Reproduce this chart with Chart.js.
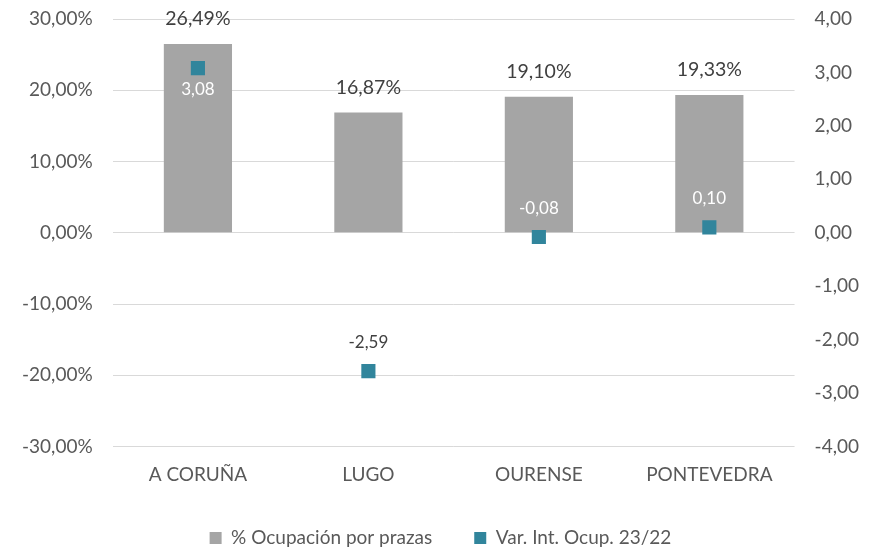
<!DOCTYPE html>
<html>
<head>
<meta charset="utf-8">
<script src="https://cdn.jsdelivr.net/npm/chart.js@4.4.1/dist/chart.umd.min.js"></script>
<style>
  html, body { margin: 0; padding: 0; background: #fff; }
</style>
</head>
<body>
<canvas id="mycanvas" width="875" height="550"></canvas>
<script>
var provincias = ['A CORUÑA', 'LUGO', 'OURENSE', 'PONTEVEDRA'];
var ocupacion = [26.49, 16.87, 19.10, 19.33];
var variacion = [3.08, -2.59, -0.08, 0.10];
var ocupacionTicks = [-30, -20, -10, 0, 10, 20, 30];
var variacionTicks = [-4, -3, -2, -1, 0, 1, 2, 3, 4];

// where the variation labels sit and their colour
var varLabelPos = ['below', 'above', 'above', 'above'];
var varLabelColor = ['#ffffff', '#404040', '#ffffff', '#ffffff'];

var FONT = "Lato, 'Open Sans', sans-serif";

function coma(v) {
	return v.toFixed(2).replace('.', ',');
}

// y axes: let the end tick labels hang outside the plot area
function noEndPadding(axis) {
	axis.paddingTop = 0;
	axis.paddingBottom = 0;
}

var valueLabels = {
	id: 'valueLabels',
	afterDatasetsDraw: function(chart) {
		var ctx = chart.ctx;
		ctx.save();
		ctx.textAlign = 'center';
		ctx.textBaseline = 'middle';

		var barMeta = chart.getDatasetMeta(1);
		ctx.font = '19.5px ' + FONT;
		ctx.fillStyle = '#404040';
		barMeta.data.forEach(function(bar, i) {
			ctx.fillText(coma(ocupacion[i]) + '%', bar.x, bar.y - 25);
		});

		var ptMeta = chart.getDatasetMeta(0);
		ctx.font = '17px ' + FONT;
		ptMeta.data.forEach(function(pt, i) {
			ctx.fillStyle = varLabelColor[i];
			var dy = varLabelPos[i] == 'below' ? 21 : -29;
			ctx.fillText(coma(variacion[i]), pt.x, pt.y + dy);
		});
		ctx.restore();
	}
};

var ctx = document.getElementById('mycanvas');

var chartdata = {
	labels: provincias,
	datasets: [
		{
			type: 'line',
			label: 'Var. Int. Ocup. 23/22',
			data: variacion,
			yAxisID: 'y1',
			showLine: false,
			pointStyle: 'rect',
			pointRadius: 10,
			pointHoverRadius: 10,
			backgroundColor: '#31859c',
			borderColor: '#31859c',
			borderWidth: 0
		},
		{
			type: 'bar',
			label: '% Ocupación por prazas',
			data: ocupacion,
			yAxisID: 'y',
			backgroundColor: '#a5a5a5',
			borderWidth: 0,
			barPercentage: 0.4,
			categoryPercentage: 1.0
		}
	]
};

Chart.defaults.font.family = FONT;

var graph = new Chart(ctx, {
	type: 'bar',
	data: chartdata,
	plugins: [valueLabels],
	options: {
		responsive: false,
		animation: false,
		layout: { padding: { left: 2, right: -4, top: 19, bottom: -7.5 } },
		plugins: {
			tooltip: { enabled: false },
			legend: {
				position: 'bottom',
				labels: {
					boxWidth: 12,
					boxHeight: 12,
					padding: 42,
					color: '#595959',
					font: { size: 19 },
					sort: function(a, b) { return b.datasetIndex - a.datasetIndex; }
				}
			}
		},
		scales: {
			x: {
				offset: true,
				grid: { display: false, drawTicks: false },
				border: { display: false },
				ticks: { color: '#595959', font: { size: 19 }, padding: 17 },
				// just tall enough for one line of labels
				afterFit: function(axis) { axis.height = 40; }
			},
			y: {
				position: 'left',
				min: -30,
				max: 30,
				afterBuildTicks: function(axis) {
					axis.ticks = ocupacionTicks.map(function(v) { return { value: v }; });
				},
				afterFit: noEndPadding,
				grid: { color: '#d9d9d9', lineWidth: 1, drawTicks: false },
				border: { display: false },
				ticks: {
					color: '#595959',
					font: { size: 19 },
					padding: 20,
					callback: function(v) { return coma(v) + '%'; }
				}
			},
			y1: {
				position: 'right',
				min: -4,
				max: 4,
				afterBuildTicks: function(axis) {
					axis.ticks = variacionTicks.map(function(v) { return { value: v }; });
				},
				afterFit: noEndPadding,
				grid: { display: false, drawTicks: false },
				border: { display: false },
				ticks: {
					color: '#595959',
					font: { size: 19 },
					padding: 20,
					callback: function(v) { return coma(v); }
				}
			}
		}
	}
});
</script>
</body>
</html>
